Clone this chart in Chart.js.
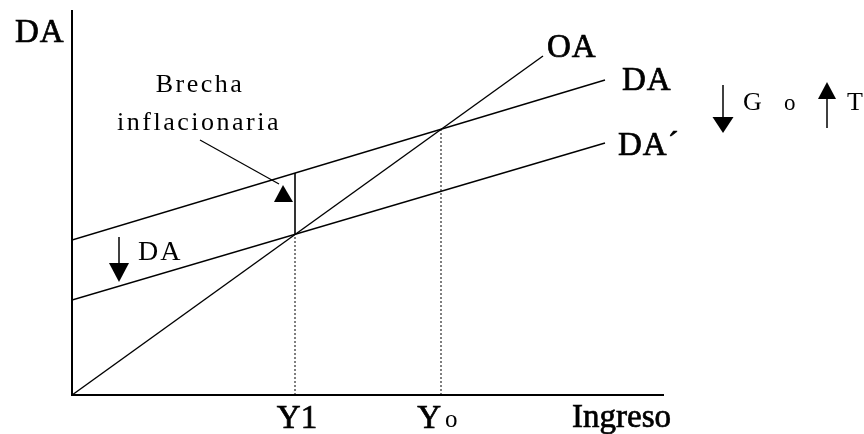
<!DOCTYPE html>
<html>
<head>
<meta charset="utf-8">
<script src="https://cdn.jsdelivr.net/npm/chart.js@4"></script>
<style>
html, body { margin: 0; padding: 0; background: #fff; }
#wrap { width: 864px; height: 434px; }
</style>
</head>
<body>
<div id="wrap"><canvas id="c"></canvas></div>
<script>
// values (x = Ingreso, y = DA, arbitrary units)
var oaX = [0, 471], oaY = [0, 339];
var daX = [0, 533], daY = [155, 315];
var da2X = [0, 533], da2Y = [95, 252];
var y1Val = 223, yoVal = 369;
var gapLow = 161, gapHigh = 222;   // DA' and DA at Y1
var yoTop = 266;                   // DA meets OA at Yo
var xTickLabels = ['Y1', 'Yo'];

function pts(xs, ys) {
    return xs.map(function (x, i) { return { x: x, y: ys[i] }; });
}

var serif = '"Liberation Serif", "Times New Roman", serif';

// labels and arrows, placed in data units
var labels = [
    { t: 'DA', x: -57, y: 353, size: 33, sp: 1, bold: 0.7 },
    { t: 'OA', x: 475, y: 338, size: 33, sp: 1, bold: 0.7 },
    { t: 'DA', x: 550, y: 305, size: 33, sp: 1, bold: 0.7 },
    { t: 'DA\u00b4', x: 546, y: 240, size: 33, sp: 1, bold: 0.7 },
    { t: 'Ingreso', x: 500, y: -32, size: 33, sp: 0, bold: 0.7 },
    { t: 'Brecha', x: 128, y: 303, size: 26, sp: 2.5, align: 'center' },
    { t: 'inflacionaria', x: 127, y: 265, size: 26, sp: 2.5, align: 'center' },
    { t: 'DA', x: 66, y: 135, size: 28, sp: 2 },
    { t: 'G', x: 671, y: 285, size: 26, sp: 0 },
    { t: 'o', x: 712, y: 285, size: 23, sp: 0 },
    { t: 'T', x: 775, y: 285, size: 26, sp: 0 }
];
var arrows = [
    { x: 47, from: 158, to: 132, tip: 113, half: 10 },
    { x: 651, from: 310, to: 278, tip: 262, half: 10.5 },
    { x: 755, from: 267, to: 296, tip: 313, half: 9 }
];

var annotate = {
    id: 'annotate',
    afterDraw: function (chart) {
        var ctx = chart.ctx;
        var xs = chart.scales.x, ys = chart.scales.y;
        function px(v) { return xs.getPixelForValue(v); }
        function py(v) { return ys.getPixelForValue(v); }
        function text(t, x, y, size, sp, align, bold) {
            ctx.font = size + 'px ' + serif;
            ctx.letterSpacing = sp + 'px';
            ctx.textAlign = align || 'left';
            ctx.fillText(t, x, y);
            if (bold) {
                ctx.lineWidth = bold;
                ctx.strokeText(t, x, y);
            }
        }
        ctx.save();
        ctx.fillStyle = '#000';
        ctx.strokeStyle = '#000';
        ctx.textBaseline = 'alphabetic';
        labels.forEach(function (l) {
            text(l.t, px(l.x), py(l.y), l.size, l.sp, l.align, l.bold);
        });
        // x tick labels
        text(xTickLabels[0], px(y1Val) + 2, py(-33), 33, 0, 'center', 0.7);
        text(xTickLabels[1].charAt(0), px(yoVal), py(-33), 33, 0, 'right', 0.7);
        text(xTickLabels[1].charAt(1), px(yoVal) + 4, py(-32), 25, 0, 'left', 0);
        // straight arrows
        ctx.lineWidth = 1.5;
        arrows.forEach(function (a) {
            ctx.beginPath();
            ctx.moveTo(px(a.x), py(a.from));
            ctx.lineTo(px(a.x), py(a.to));
            ctx.stroke();
            ctx.beginPath();
            ctx.moveTo(px(a.x) - a.half, py(a.to));
            ctx.lineTo(px(a.x) + a.half, py(a.to));
            ctx.lineTo(px(a.x), py(a.tip));
            ctx.closePath();
            ctx.fill();
        });
        // pointer to the gap
        ctx.lineWidth = 1.2;
        ctx.beginPath();
        ctx.moveTo(px(128), py(255));
        ctx.lineTo(px(207), py(211));
        ctx.stroke();
        ctx.beginPath();
        ctx.moveTo(px(211), py(210));
        ctx.lineTo(px(202), py(193));
        ctx.lineTo(px(221), py(193));
        ctx.closePath();
        ctx.fill();
        ctx.restore();
    }
};

var solid = { showLine: true, borderColor: '#000', borderWidth: 1.4, pointRadius: 0, fill: false };
function ds(data, extra) {
    return Object.assign({}, solid, { data: data }, extra || {});
}

new Chart(document.getElementById('c').getContext('2d'), {
    type: 'scatter',
    data: {
        datasets: [
            ds(pts(oaX, oaY)),
            ds(pts(daX, daY)),
            ds(pts(da2X, da2Y)),
            ds(pts([y1Val, y1Val], [gapLow, gapHigh]), { borderWidth: 1.6 }),
            ds(pts([y1Val, y1Val], [0, gapLow]), { borderWidth: 1, borderDash: [2, 2] }),
            ds(pts([yoVal, yoVal], [0, yoTop]), { borderWidth: 1, borderDash: [2, 2] })
        ]
    },
    options: {
        responsive: true,
        maintainAspectRatio: false,
        animation: false,
        layout: { padding: { left: 72, top: 11, right: 201, bottom: 39 } },
        plugins: { legend: { display: false }, tooltip: { enabled: false } },
        scales: {
            x: {
                type: 'linear', min: 0, max: 591,
                grid: { display: false, drawTicks: false },
                ticks: { display: false },
                border: { display: true, color: '#000', width: 2 }
            },
            y: {
                type: 'linear', min: 0, max: 384,
                grid: { display: false, drawTicks: false },
                ticks: { display: false },
                border: { display: true, color: '#000', width: 2 }
            }
        }
    },
    plugins: [annotate]
});
</script>
</body>
</html>
